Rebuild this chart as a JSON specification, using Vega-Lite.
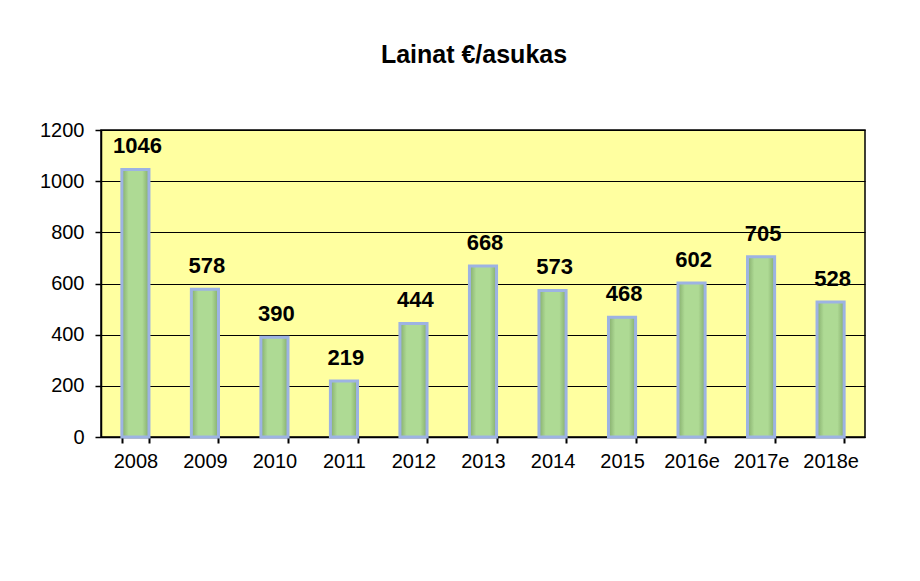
{
  "$schema": "https://vega.github.io/schema/vega-lite/v6.json",
  "autosize": {"type": "none"},
  "width": 764,
  "height": 307,
  "padding": {"left": 101, "top": 130, "right": 55, "bottom": 144},
  "background": "white",
  "title": {
    "text": "Lainat €/asukas",
    "fontSize": 25,
    "fontWeight": "bold",
    "font": "Liberation Sans",
    "color": "black",
    "anchor": "middle",
    "frame": "group",
    "offset": 52,
    "dx": -9
  },
  "data": {
    "values": [
      {"vuosi": "2008", "lainat": 1046},
      {"vuosi": "2009", "lainat": 578},
      {"vuosi": "2010", "lainat": 390},
      {"vuosi": "2011", "lainat": 219},
      {"vuosi": "2012", "lainat": 444},
      {"vuosi": "2013", "lainat": 668},
      {"vuosi": "2014", "lainat": 573},
      {"vuosi": "2015", "lainat": 468},
      {"vuosi": "2016e", "lainat": 602},
      {"vuosi": "2017e", "lainat": 705},
      {"vuosi": "2018e", "lainat": 528}
    ]
  },
  "encoding": {
    "x": {
      "field": "vuosi",
      "type": "nominal",
      "sort": null,
      "scale": {"paddingInner": 0.61, "paddingOuter": 0.3},
      "axis": {
        "title": null,
        "labelAngle": 0,
        "tickBand": "extent",
        "grid": false,
        "domainColor": "black",
        "domainWidth": 1.5,
        "tickColor": "black",
        "tickWidth": 2,
        "tickSize": 6,
        "labelPadding": 8,
        "labelFontSize": 20,
        "labelColor": "black",
        "labelFont": "Liberation Sans"
      }
    },
    "y": {
      "field": "lainat",
      "type": "quantitative",
      "scale": {"domain": [0, 1200], "nice": false},
      "axis": {
        "title": null,
        "format": "d",
        "values": [0, 200, 400, 600, 800, 1000, 1200],
        "grid": true,
        "gridColor": "black",
        "gridWidth": 1.2,
        "gridOpacity": 1,
        "domainColor": "black",
        "domainWidth": 1.5,
        "tickColor": "black",
        "tickWidth": 1.5,
        "tickSize": 6,
        "labelPadding": 11,
        "labelFontSize": 20,
        "labelColor": "black",
        "labelFont": "Liberation Sans"
      }
    }
  },
  "layer": [
    {
      "mark": {
        "type": "bar",
        "stroke": "#9DB3E3",
        "strokeWidth": 3,
        "color": {
          "gradient": "linear",
          "x1": 0, "y1": 0, "x2": 1, "y2": 0,
          "stops": [
            {"offset": 0, "color": "#84AC6C"},
            {"offset": 0.25, "color": "#AEDA94"},
            {"offset": 0.75, "color": "#AEDA94"},
            {"offset": 1, "color": "#84AC6C"}
          ]
        }
      }
    },
    {
      "mark": {
        "type": "text",
        "baseline": "alphabetic",
        "dy": -16,
        "dx": 2,
        "fontSize": 22,
        "fontWeight": "bold",
        "font": "Liberation Sans",
        "color": "black"
      },
      "encoding": {
        "text": {"field": "lainat", "type": "quantitative"}
      }
    }
  ],
  "config": {
    "view": {"stroke": "black", "strokeWidth": 1.5, "fill": "#FFFFA0"}
  }
}
